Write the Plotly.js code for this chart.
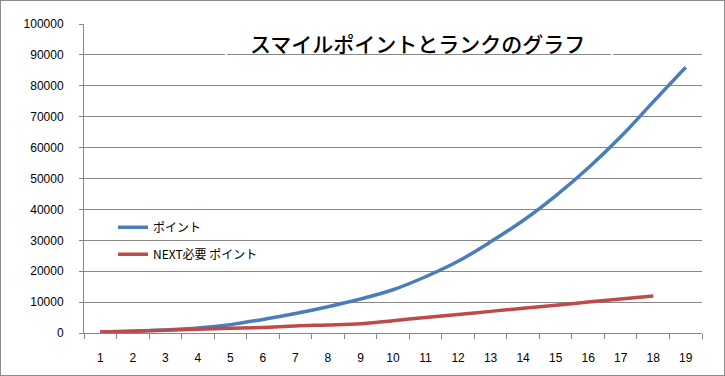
<!DOCTYPE html>
<html>
<head>
<meta charset="utf-8">
<script src="https://cdn.plot.ly/plotly-3.0.1.min.js"></script>
<style>
html,body{margin:0;padding:0;background:#fff;}
#wrap{position:relative;width:725px;height:376px;}
#chart{width:725px;height:376px;}
#frame{position:absolute;left:0;top:0;width:723px;height:374px;border:1px solid #8c8c8c;pointer-events:none;}
</style>
</head>
<body>
<div id="wrap"><div id="chart"></div><div id="frame"></div></div>
<script>
const titleText = "スマイルポイントとランクのグラフ";
const categories = ["1","2","3","4","5","6","7","8","9","10","11","12","13","14","15","16","17","18","19"];
const pointName = "ポイント";
const pointValues = [300, 600, 1000, 1600, 2700, 4400, 6300, 8500, 11000, 14000, 18200, 23200, 29500, 36400, 44400, 53400, 63500, 74800, 86000];
const nextName = "NEXT必要 ポイント";
const nextValues = [300, 600, 900, 1200, 1500, 1800, 2300, 2600, 3000, 4000, 5000, 6000, 7000, 8000, 9000, 10000, 11000, 12000];
const yTicks = [0,10000,20000,30000,40000,50000,60000,70000,80000,90000,100000];

const gridCol = "#878787";
const jp = "'Noto Sans CJK JP', 'Noto Sans', sans-serif";

const traces = [
  {
    type: "scatter", mode: "lines", name: pointName,
    x: categories, y: pointValues,
    line: {color: "#4A7EBB", width: 3.5, shape: "spline", smoothing: 1},
    legend: "legend"
  },
  {
    type: "scatter", mode: "lines", name: nextName,
    x: categories.slice(0, nextValues.length), y: nextValues,
    line: {color: "#BE4B48", width: 3.5, shape: "spline", smoothing: 1},
    legend: "legend2"
  }
];

const layout = {
  width: 725, height: 376,
  margin: {l: 84, r: 23, t: 24, b: 43},
  paper_bgcolor: "#ffffff", plot_bgcolor: "#ffffff",
  font: {family: "'Liberation Sans', Arial, sans-serif", size: 12, color: "#000"},
  title: {
    text: titleText,
    font: {family: jp, size: 21, color: "#000", weight: 500},
    x: 0.576, xref: "container", xanchor: "center",
    y: 0.882, yref: "container", yanchor: "middle"
  },
  xaxis: {
    type: "category",
    categoryorder: "array", categoryarray: categories,
    range: [-0.5, 18.5],
    showgrid: false, zeroline: false,
    showline: true, linecolor: gridCol, linewidth: 1,
    ticks: "outside", tickson: "boundaries", ticklen: 5, tickcolor: gridCol, tickwidth: 1,
    ticklabelstandoff: 14,
    tickfont: {size: 12, color: "#000"},
    fixedrange: true
  },
  yaxis: {
    range: [0, 100000],
    tickvals: yTicks, ticktext: yTicks.map(String),
    showgrid: true, gridcolor: gridCol, gridwidth: 1,
    zeroline: false,
    showline: true, linecolor: gridCol, linewidth: 1,
    ticks: "outside", ticklen: 4, tickcolor: gridCol, tickwidth: 1,
    ticklabelstandoff: 13,
    tickfont: {size: 12, color: "#000"},
    fixedrange: true
  },
  showlegend: true,
  legend: {
    x: 0.047, xanchor: "left", y: 0.389, yanchor: "top",
    bgcolor: "rgba(0,0,0,0)", borderwidth: 0,
    font: {family: jp, size: 12, color: "#000"}
  },
  legend2: {
    x: 0.047, xanchor: "left", y: 0.302, yanchor: "top",
    bgcolor: "rgba(0,0,0,0)", borderwidth: 0,
    font: {family: jp, size: 12, color: "#000"}
  },
  shapes: [
    {type: "rect", xref: "paper", yref: "paper",
     x0: 0.2298, x1: 0.8544, y0: 0.858, y1: 1.02,
     line: {color: "#ffffff", width: 2}, fillcolor: "rgba(0,0,0,0)", layer: "above"}
  ]
};

Plotly.newPlot("chart", traces, layout, {displayModeBar: false, staticPlot: true});
</script>
</body>
</html>
